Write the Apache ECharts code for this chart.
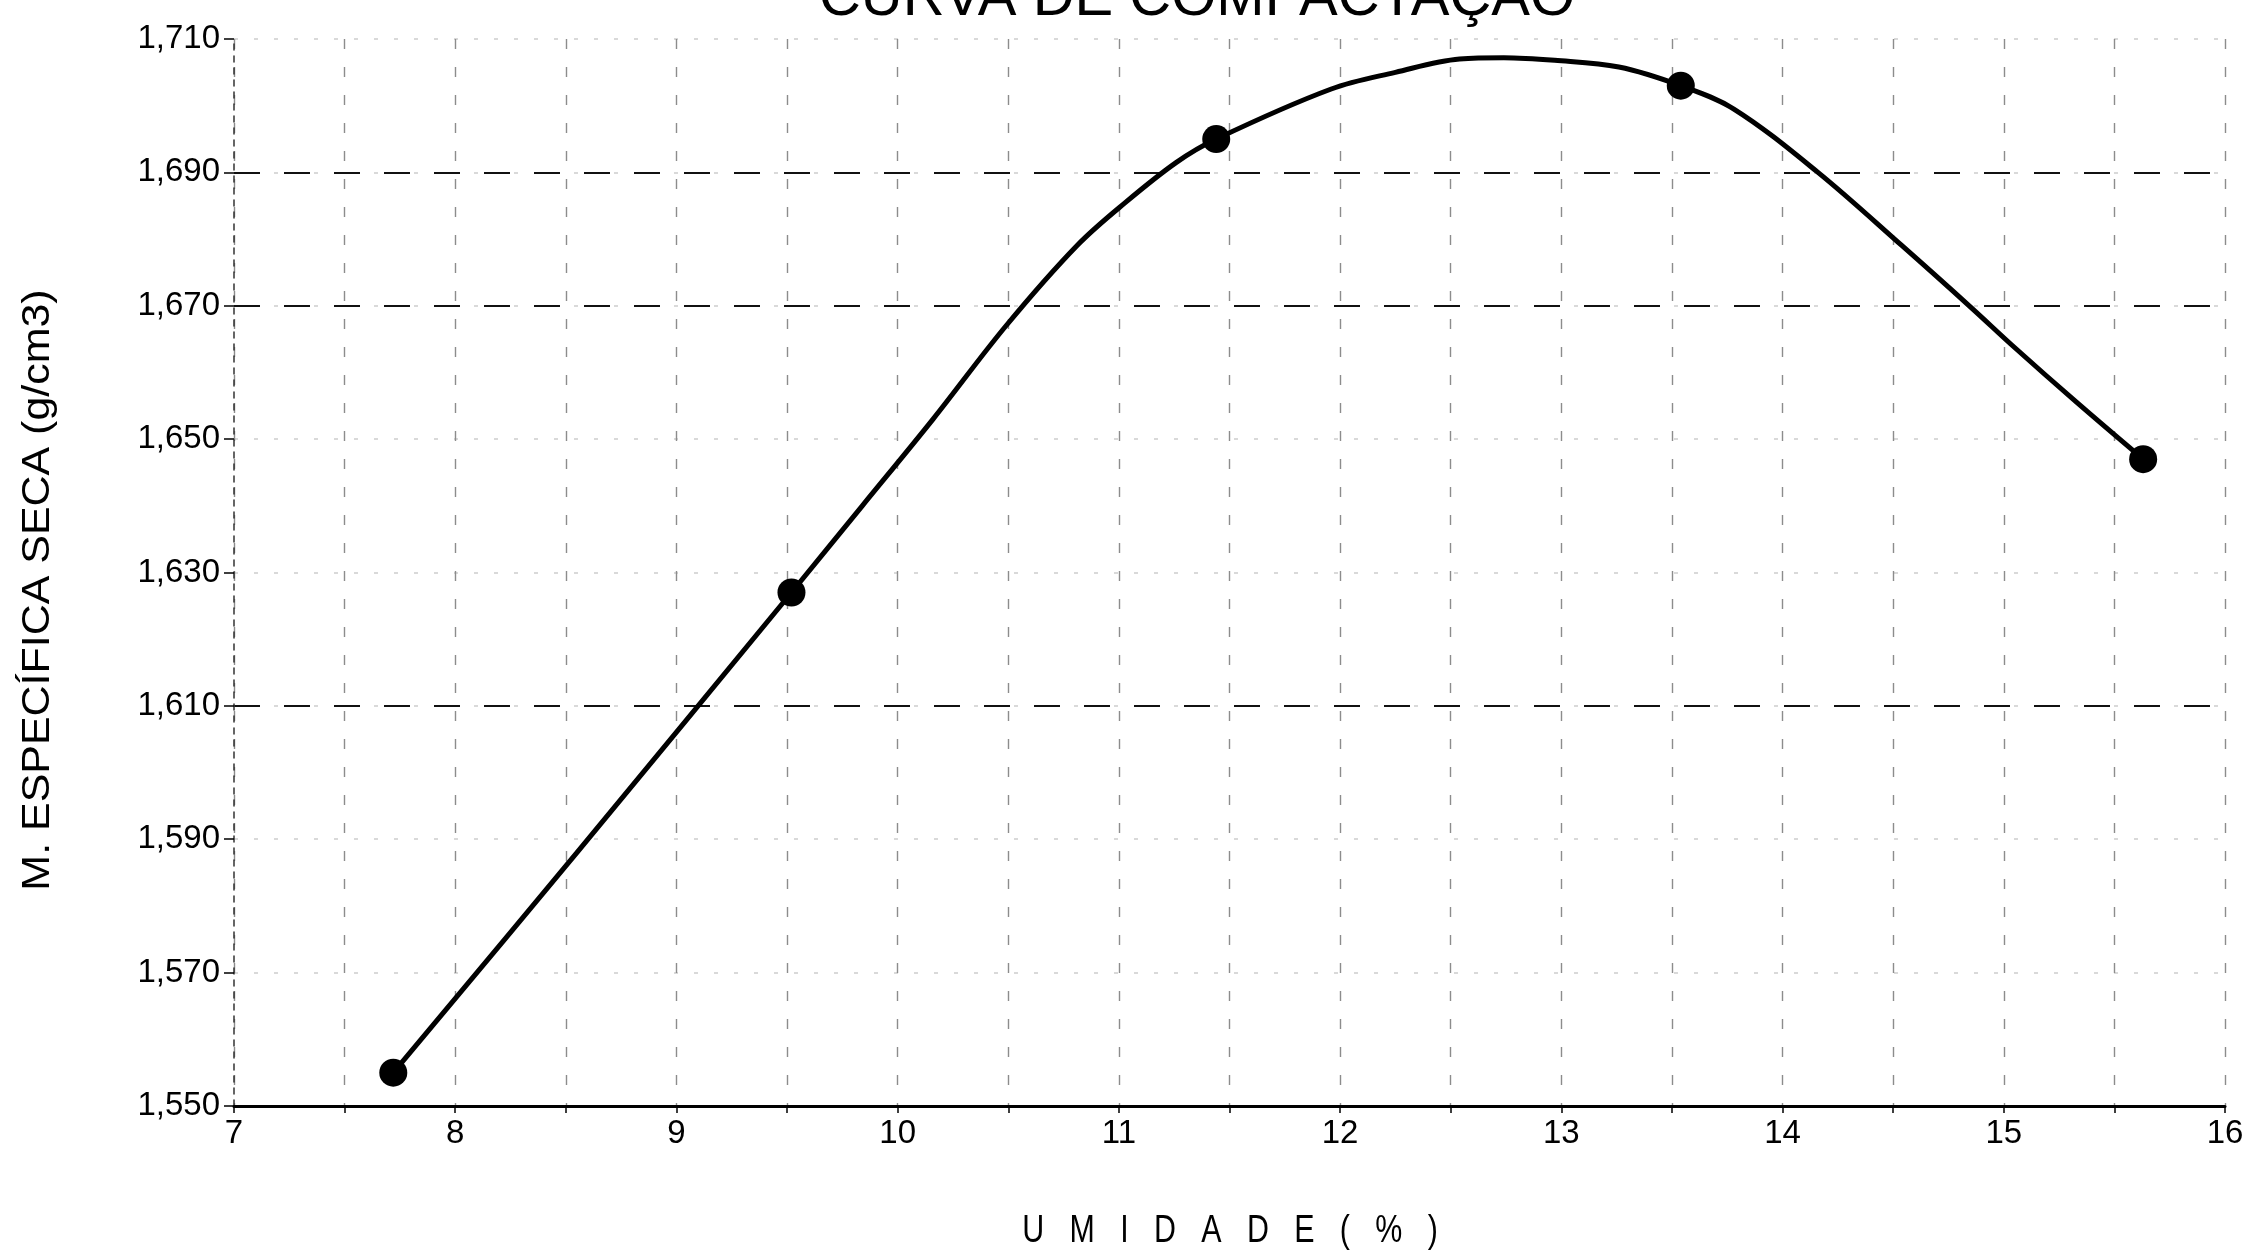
<!DOCTYPE html>
<html>
<head>
<meta charset="utf-8">
<title>Curva de Compactação</title>
<script src="https://cdn.jsdelivr.net/npm/echarts@6/dist/echarts.min.js"></script>
<style>
  html, body { margin: 0; padding: 0; background: #fff; }
  #chart { width: 2255px; height: 1250px; }
</style>
</head>
<body>
<div id="chart"></div>
<script>
// Ensaio de compactação: pontos medidos (umidade %, massa específica seca g/cm3)
const umidade = [7.72, 9.52, 11.44, 13.54, 15.63];
const massaEspecificaSeca = [1.555, 1.627, 1.695, 1.703, 1.647];

// curva de compactação ajustada, lida ponto a ponto ao longo do traçado
const curvaUmidade = [7.72, 8.55, 9.52, 9.84, 10.16, 10.49, 10.81, 11.03, 11.26, 11.44, 11.96, 12.25,
  12.54, 12.74, 12.97, 13.26, 13.54, 13.78, 14.16, 14.54, 14.86, 15.04, 15.33, 15.63];
const curvaMassa = [1.555, 1.588, 1.627, 1.640, 1.653, 1.667, 1.679, 1.6855, 1.6915, 1.695, 1.7025, 1.705,
  1.707, 1.7072, 1.7068, 1.7058, 1.703, 1.6995, 1.690, 1.679, 1.6695, 1.664, 1.6555, 1.647];

const xTickValues = [7, 8, 9, 10, 11, 12, 13, 14, 15, 16];
const xTickLabels = ['7', '8', '9', '10', '11', '12', '13', '14', '15', '16'];
const yTickValues = [1.55, 1.57, 1.59, 1.61, 1.63, 1.65, 1.67, 1.69, 1.71];
const yTickLabels = ['1,550', '1,570', '1,590', '1,610', '1,630', '1,650', '1,670', '1,690', '1,710'];
// levels whose grid line is printed darker
const yLinhasFortes = [1.61, 1.67, 1.69];

const FONT = '"Liberation Sans", Arial, Helvetica, sans-serif';
const LABEL_SIZE = 33;
const Y_MIN = yTickValues[0];
const Y_MAX = yTickValues[yTickValues.length - 1];

const chart = echarts.init(document.getElementById('chart'));
chart.setOption({
  animation: false,
  backgroundColor: '#fff',
  grid: { left: 234, right: 30, top: 39, bottom: 144, containLabel: false, outerBoundsMode: 'none' },
  xAxis: {
    type: 'value',
    min: 7, max: 16, interval: 0.5,
    axisLine: { show: true, onZero: false, lineStyle: { color: '#000', width: 3 } },
    axisTick: { show: true, length: 7, lineStyle: { color: '#000', width: 1.5 } },
    axisLabel: {
      customValues: xTickValues,
      formatter: v => {
        const i = xTickValues.indexOf(v);
        return i >= 0 ? xTickLabels[i] : '';
      },
      margin: 11, color: '#000', fontSize: LABEL_SIZE, fontFamily: FONT
    },
    splitLine: { show: true, lineStyle: { color: '#8c8c8c', width: 1.4, type: [10, 18] } }
  },
  yAxis: [
    {
      // main axis: labels, ticks and the faint grid at every labelled level
      type: 'value',
      min: Y_MIN, max: Y_MAX, interval: 0.01,
      axisLine: { show: true, onZero: false, lineStyle: { color: '#333', width: 1.5, type: [6, 6] } },
      axisTick: { show: true, customValues: yTickValues, length: 10, lineStyle: { color: '#000', width: 1.5 } },
      axisLabel: {
        customValues: yTickValues,
        formatter: v => yTickLabels[Math.round((v - Y_MIN) / 0.02)],
        margin: 14, color: '#000', fontSize: LABEL_SIZE, fontFamily: FONT
      },
      splitLine: { show: true, lineStyle: { color: '#cdcdcd', width: 1.5, type: [4, 16] } }
    },
    {
      // overlay axis carrying only the darker dashed grid lines
      type: 'value',
      min: Y_MIN, max: Y_MAX, interval: 0.01,
      axisLine: { show: false },
      axisTick: { show: false, customValues: yLinhasFortes },
      axisLabel: { show: false },
      splitLine: { show: true, lineStyle: { color: '#111', width: 2, type: [26, 24] } }
    }
  ],
  graphic: [
    {
      type: 'text', x: 1197, y: -1,
      style: { text: 'CURVA DE COMPACTAÇÃO', fontSize: 58, fontFamily: FONT, fill: '#000', align: 'center', verticalAlign: 'middle' }
    },
    {
      type: 'text', x: 39, y: 590, rotation: Math.PI / 2, scaleX: 1.13,
      style: { text: 'M. ESPECÍFICA SECA (g/cm3)', fontSize: 38, fontFamily: FONT, fill: '#000', align: 'center', verticalAlign: 'middle' }
    },
    {
      type: 'text', x: 1230, y: 1232, scaleX: 0.8,
      style: { text: 'U   M   I   D   A   D   E   (   %   )', fontSize: 38, fontFamily: FONT, fill: '#000', align: 'center', verticalAlign: 'middle' }
    }
  ],
  series: [
    {
      name: 'curva',
      type: 'line',
      z: 3,
      data: curvaUmidade.map((u, i) => [u, curvaMassa[i]]),
      smooth: 0.35,
      showSymbol: false,
      clip: false,
      lineStyle: { color: '#000', width: 5 }
    },
    {
      name: 'ensaio',
      type: 'scatter',
      z: 4,
      data: umidade.map((u, i) => [u, massaEspecificaSeca[i]]),
      symbol: 'circle',
      symbolSize: 28,
      clip: false,
      itemStyle: { color: '#000', opacity: 1 }
    }
  ]
});
</script>
</body>
</html>
